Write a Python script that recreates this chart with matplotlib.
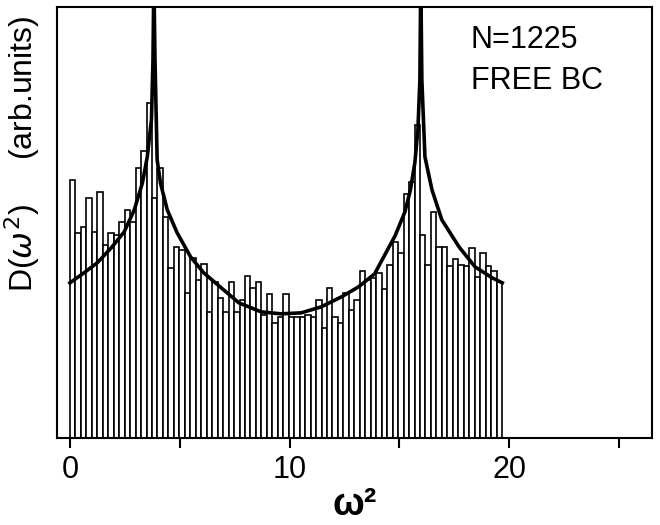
import matplotlib.pyplot as plt
from matplotlib.ticker import FixedLocator

plt.rcParams['font.family'] = ['Liberation Sans', 'DejaVu Sans']

# histogram of squared frequencies (bars)
bin_width = 0.249
bar_heights = [
    2.58, 2.05, 2.11, 2.40, 2.06, 2.46, 1.93, 2.05, 2.03, 2.16,
    2.28, 2.16, 2.70, 2.87, 3.35, 2.40, 2.70, 2.21, 1.70, 1.91,
    1.88, 1.45, 1.80, 1.58, 1.74, 1.26, 1.56, 1.40, 1.26, 1.56,
    1.26, 1.38, 1.62, 1.50, 1.56, 1.23, 1.44, 1.15, 1.21, 1.44,
    1.21, 1.21, 1.21, 1.23, 1.21, 1.38, 1.10, 1.50, 1.21, 1.15,
    1.45, 1.28, 1.38, 1.67, 1.58, 1.60, 1.65, 1.49, 1.73, 1.96,
    1.85, 2.44, 2.56, 3.13, 2.03, 1.73, 2.26, 1.91, 1.91, 1.72,
    1.79, 1.73, 1.72, 1.90, 1.61, 1.85, 1.72, 1.67, 1.56,
]
bar_left = [i * bin_width for i in range(len(bar_heights))]

# theoretical density of states curve
curve_x = [0.00, 0.64, 1.24, 1.88, 2.47, 2.93, 3.30, 3.52, 3.71, 3.78, 3.82,
           3.87, 3.97, 4.12, 4.43, 4.88, 5.49, 6.09, 6.73, 7.69, 8.70, 9.61,
           10.53, 11.44, 12.36, 13.14, 13.87, 14.26, 14.80, 15.25, 15.50,
           15.70, 15.84, 15.93, 15.97, 16.02, 16.16, 16.48, 16.93, 17.71,
           18.44, 19.22, 19.68]
curve_y = [1.55, 1.65, 1.75, 1.90, 2.06, 2.28, 2.55, 2.81, 3.18, 3.78, 4.60,
           3.80, 2.78, 2.55, 2.28, 2.05, 1.81, 1.65, 1.53, 1.35, 1.26, 1.24,
           1.25, 1.31, 1.41, 1.51, 1.64, 1.80, 2.02, 2.26, 2.48,
           2.75, 3.08, 3.58, 4.60, 3.58, 2.81, 2.48, 2.18, 1.91,
           1.71, 1.60, 1.55]

fig = plt.figure(figsize=(6.6, 5.25), dpi=100)
ax = fig.add_axes([0.086, 0.166, 0.902, 0.821])

ax.bar(bar_left, bar_heights, width=bin_width, align='edge',
       color='white', edgecolor='black', linewidth=1.2)
ax.plot(curve_x, curve_y, color='black', linewidth=2.6, solid_joinstyle='round')

ax.set_xlim(-0.6, 26.5)
ax.set_ylim(0, 4.31)

ax.xaxis.set_major_locator(FixedLocator([0, 10, 20]))
ax.xaxis.set_minor_locator(FixedLocator([5, 15, 25]))
ax.tick_params(axis='x', which='both', direction='out', length=7, width=1.5,
               labelsize=22, pad=5)
ax.set_yticks([])
for s in ax.spines.values():
    s.set_linewidth(1.5)

ax.set_xlabel('ω²', fontsize=27, fontweight='bold', labelpad=2)
ax.set_ylabel(r'D($\omega^2$)     (arb.units)', fontsize=23)
ax.yaxis.set_label_coords(-0.025, 0.66)

ax.text(0.695, 0.905, 'N=1225', transform=ax.transAxes, fontsize=22)
ax.text(0.695, 0.81, 'FREE BC', transform=ax.transAxes, fontsize=22)

fig.savefig('out.png', dpi=100)
